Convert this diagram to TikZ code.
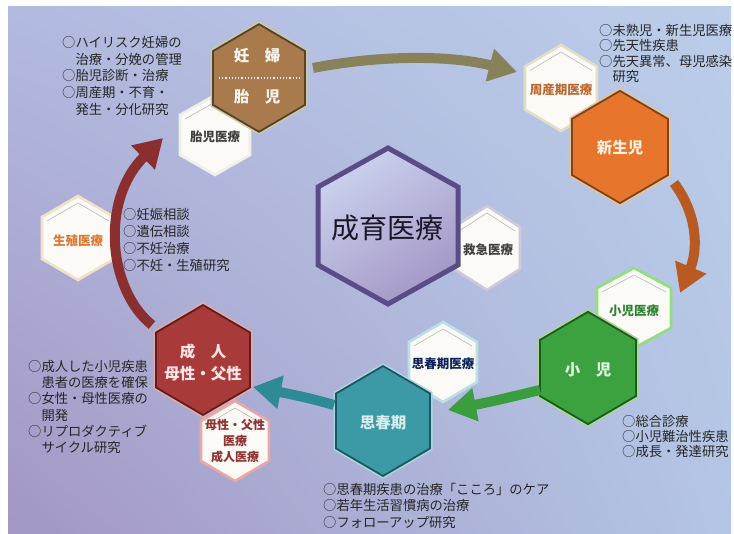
\documentclass[tikz,border=0pt]{standalone}
\usepackage{fontspec}
\setmainfont{Noto Sans CJK JP}
\usetikzlibrary{arrows.meta,shadings}
\definecolor{bgUL}{HTML}{B2BADF}
\definecolor{bgUR}{HTML}{BBCDE9}
\definecolor{bgLL}{HTML}{A396C3}
\definecolor{bgLR}{HTML}{B3C5E5}
\definecolor{hexwhite}{HTML}{FBFAF6}
\definecolor{brownF}{HTML}{A87A4C}
\definecolor{brownD}{HTML}{55422F}
\definecolor{brownO}{HTML}{CFC9A0}
\definecolor{orangeF}{HTML}{E8752C}
\definecolor{orangeD}{HTML}{744527}
\definecolor{orangeO}{HTML}{F2C28E}
\definecolor{greenF}{HTML}{3CA23F}
\definecolor{greenD}{HTML}{1D5A22}
\definecolor{greenO}{HTML}{A9D98F}
\definecolor{tealF}{HTML}{3B9AA6}
\definecolor{tealD}{HTML}{1E5560}
\definecolor{tealO}{HTML}{A9D8E0}
\definecolor{maroonF}{HTML}{A83A3A}
\definecolor{maroonD}{HTML}{5A2020}
\definecolor{maroonO}{HTML}{E8A8A8}
\definecolor{purpleD}{HTML}{5A4C86}
\definecolor{coreTop}{HTML}{CAD2EE}
\definecolor{coreBot}{HTML}{A597C6}
\definecolor{arOlive}{HTML}{87825A}
\definecolor{arOrange}{HTML}{B85A22}
\definecolor{arGreen}{HTML}{3A9E3E}
\definecolor{arTeal}{HTML}{2E8A94}
\definecolor{arMaroon}{HTML}{8A2E30}
\newcommand\hexpath[5]{\path[#1] ({#2},{#3-#5}) -- ({#2+#4},{#3-#5/2}) -- ({#2+#4},{#3+#5/2}) -- ({#2},{#3+#5}) -- ({#2-#4},{#3+#5/2}) -- ({#2-#4},{#3-#5/2}) -- cycle;}
\newcommand\whitehex[5]{%
  \hexpath{fill=hexwhite, draw=#1, line width=2.6pt}{#2}{#3}{#4}{#5}
  \draw[black!28, line width=0.6pt] ({#2-#4+5},{#3-#5/2+4}) -- ({#2},{#3-#5+7}) -- ({#2+#4-5},{#3-#5/2+4});}
\newcommand\mainhex[6]{%
  \hexpath{draw=#3, line width=5pt}{#4}{#5}{#6}{#6*1.17}
  \hexpath{fill=#1, draw=#2, line width=1.8pt}{#4}{#5}{#6}{#6*1.17}}
\begin{document}
\begin{tikzpicture}[x=1pt,y=-1pt,
  hexbox/.style={inner sep=0pt, outer sep=0pt},
  wtxt/.style={font=\bfseries\fontsize{12.5}{15}\selectfont, inner sep=0pt, align=center},
  mtxt/.style={font=\bfseries\fontsize{15.5}{19}\selectfont, inner sep=0pt, align=center},
  note/.style={anchor=north west, align=left, inner sep=0pt, text=black!85,
    font=\fontsize{13.3}{16.7}\selectfont},
  arr/.style={line width=10pt, -{Triangle[width=32pt,length=28pt]}}]
\useasboundingbox (0,0) rectangle (734,534);
\fill[white] (0,0) rectangle (734,534);
\shade[upper left=bgUL, upper right=bgUR, lower left=bgLL, lower right=bgLR] (8,7) rectangle (731,534);

% fetal medicine + pregnancy/fetus
\whitehex{brownO!85!black!20}{215}{135}{35}{40}
\node[hexbox, minimum width=70pt, minimum height=80pt] (fetal) at (215,135) {};
\node[wtxt, text=black!75] (fetalT) at (215,137) {胎児医療};
\mainhex{brownF}{brownD}{brownO}{259}{78}{46}
\node[hexbox, minimum width=92pt, minimum height=108pt] (brown) at (259,78) {};
\node[mtxt, text=white!92!brown] (brownA) at (257,56) {妊　婦};
\node[mtxt, text=white!92!brown] (brownB) at (257,97) {胎　児};
\draw[white!90!brown, line width=1.2pt, dotted] (219,78) -- (301,78);

% perinatal + newborn
\whitehex{brownO!60!white}{561}{88}{36}{43}
\node[hexbox, minimum width=72pt, minimum height=86pt] (peri) at (561,88) {};
\node[wtxt, text=orangeF!70!brownD] (periT) at (561,90) {周産期医療};
\mainhex{orangeF}{orangeD}{orangeO}{620}{147}{48}
\node[hexbox, minimum width=96pt, minimum height=112pt] (orange) at (620,147) {};
\node[mtxt, text=white!88!orange] (orangeT) at (620,148) {新生児};

% pediatric medicine + child
\whitehex{greenO!85!green}{634}{308}{37}{40}
\node[hexbox, minimum width=74pt, minimum height=80pt] (smed) at (634,308) {};
\node[wtxt, text=greenF!80!black] (smedT) at (634,311) {小児医療};
\mainhex{greenF}{greenD}{greenO}{588}{368}{48}
\node[hexbox, minimum width=96pt, minimum height=112pt] (green) at (588,368) {};
\node[mtxt, text=white!90!green] (greenT) at (588,370) {小　児};

% emergency + core
\whitehex{purpleD!30!white}{487}{248}{33}{42}
\node[hexbox, minimum width=66pt, minimum height=84pt] (emer) at (487,248) {};
\node[wtxt, text=black!75] (emerT) at (488,250) {救急医療};
\shade[top color=coreTop, bottom color=coreBot, shading angle=35]
  (388,148) -- (458,187) -- (458,265) -- (388,304) -- (318,265) -- (318,187) -- cycle;
\draw[purpleD, line width=5pt, line join=miter]
  (388,148) -- (458,187) -- (458,265) -- (388,304) -- (318,265) -- (318,187) -- cycle;
\node[hexbox, minimum width=140pt, minimum height=156pt] (core) at (388,226) {};
\node[font=\fontsize{28}{32}\selectfont, text=black!70!purpleD, inner sep=0pt] (coreT) at (387,228) {成育医療};

% adolescent
\whitehex{tealO!80!white}{443}{362}{34}{40}
\node[hexbox, minimum width=68pt, minimum height=80pt] (amed) at (443,362) {};
\node[wtxt, text=black!65!blue!60!tealD] (amedT) at (443,364) {思春期医療};
\mainhex{tealF}{tealD}{tealO}{383}{421}{47}
\node[hexbox, minimum width=94pt, minimum height=110pt] (teal) at (383,421) {};
\node[mtxt, text=white!85!teal] (tealT) at (383,423) {思春期};

% adult
\mainhex{maroonF}{maroonD}{maroonO}{203}{360}{47}
\node[hexbox, minimum width=94pt, minimum height=110pt] (maroon) at (203,360) {};
\node[mtxt, text=white!90!red] (maroonA) at (203,352) {成　人};
\node[mtxt, text=white!90!red] (maroonB) at (203,374) {母性・父性};
\whitehex{maroonO}{235}{441}{34}{40}
\node[hexbox, minimum width=68pt, minimum height=80pt] (mmed) at (235,441) {};
\node[wtxt, text=maroonF!85!black, font=\bfseries\fontsize{12}{16}\selectfont] (mmedT) at (235,441) {母性・父性\\医療\\成人医療};

% reproductive
\whitehex{brownO!70!orange!40!white}{78}{238}{36}{42}
\node[hexbox, minimum width=72pt, minimum height=84pt] (repro) at (78,238) {};
\node[wtxt, text=orangeF!70!brown] (reproT) at (78,241) {生殖医療};

% notes
\node[note] (nTL) at (62,36) {○ハイリスク妊婦の\\　治療・分娩の管理\\○胎児診断・治療\\○周産期・不育・\\　発生・分化研究};
\node[note, font=\fontsize{13.3}{15.4}\selectfont] (nTR) at (599,24) {○未熟児・新生児医療\\○先天性疾患\\○先天異常、母児感染\\　研究};
\node[note, font=\fontsize{13.3}{17}\selectfont] (nML) at (123,208) {○妊娠相談\\○遺伝相談\\○不妊治療\\○不妊・生殖研究};
\node[note, font=\fontsize{13.3}{16.3}\selectfont] (nBL) at (28,360) {○成人した小児疾患\\　患者の医療を確保\\○女性・母性医療の\\　開発\\○リプロダクティブ\\　サイクル研究};
\node[note, font=\fontsize{13.3}{16.3}\selectfont] (nBC) at (323,483) {○思春期疾患の治療「こころ」のケア\\○若年生活習慣病の治療\\○フォローアップ研究};
\node[note, font=\fontsize{13.3}{15}\selectfont] (nBR) at (622,415) {○総合診療\\○小児難治性疾患\\○成長・発達研究};

% arrows
\coordinate (a1s) at ([shift={(8,-10)}]brown.east);
\coordinate (a1e) at ([shift={(-8,-16)}]peri.west);
\draw[arr, arOlive] (a1s) .. controls (380,55) and (450,55) .. (a1e);
\coordinate (a2s) at ([shift={(6,36)}]orange.east);
\coordinate (a2e) at ([shift={(9,-15)}]smed.east);
\draw[arr, arOrange] (a2s) .. controls (698,215) and (698,250) .. (a2e);
\coordinate (a3s) at ([shift={(0,22)}]green.west);
\coordinate (a3e) at ([shift={(18,-11)}]teal.east);
\draw[arr, arGreen] (a3s) .. controls (515,396) and (490,402) .. (a3e);
\coordinate (a4s) at ([shift={(-2,-16)}]teal.west);
\coordinate (a4e) at ([shift={(3,27)}]maroon.east);
\draw[arr, arTeal] (a4s) .. controls (310,398) and (290,394) .. (a4e);
\coordinate (a5s) at ([shift={(-4,-35)}]maroon.west);
\coordinate (a5e) at ([shift={(-17,3)}]fetal.west);
\draw[arr, arMaroon] (a5s) .. controls (108,290) and (100,200) .. (a5e);
\end{tikzpicture}
\end{document}
